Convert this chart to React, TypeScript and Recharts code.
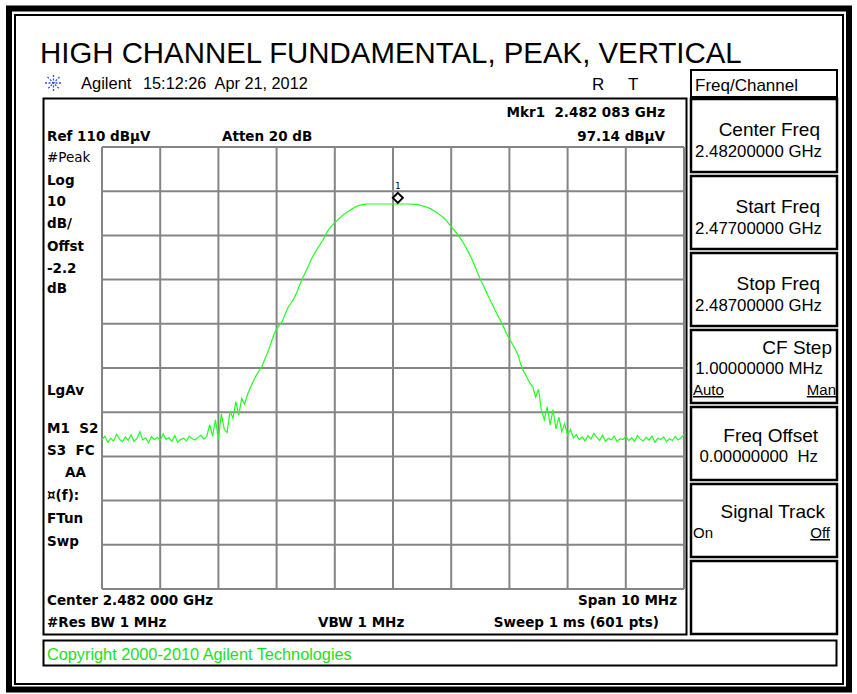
import { LineChart, Line, XAxis, YAxis, CartesianGrid, ReferenceDot } from "recharts";

// sweep: 2.477 GHz .. 2.487 GHz, read every 50 kHz (values in dBuV)
const START_MHZ = 2477;
const STEP_MHZ = 0.05;
const FREQ_TICKS = [2477, 2478, 2479, 2480, 2481, 2482, 2483, 2484, 2485, 2486, 2487];
const LEVEL_TICKS = [10, 20, 30, 40, 50, 60, 70, 80, 90, 100, 110];

const LEVELS = [
  // 0.00 - 0.95 MHz
  43.8, 44.6, 43.2, 44.1, 43.5, 45.0, 43.9, 43.3, 44.4, 43.6, 44.9, 43.4, 44.0, 45.6, 43.7, 44.2, 43.1, 44.5, 43.8, 44.3,
  // 1.00 - 1.95
  43.6, 45.1, 43.9, 44.2, 43.4, 44.7, 43.2, 43.8, 44.1, 43.5, 44.6, 44.0, 43.7, 44.3, 44.8, 43.9, 44.5, 47.2, 44.6, 48.3,
  // 2.00 - 2.95
  43.9, 49.6, 46.2, 45.4, 50.3, 48.6, 52.4, 49.3, 53.1, 51.8, 54.0, 55.6, 57.0, 58.3, 59.4, 60.4, 62.1, 63.6, 65.5, 67.4,
  // 3.00 - 3.95
  68.8, 69.7, 70.6, 72.3, 73.8, 74.7, 75.8, 77.2, 78.9, 80.4, 81.8, 83.2, 84.7, 85.9, 87.0, 88.0, 89.0, 90.4, 91.4, 92.2,
  // 4.00 - 4.95
  92.9, 93.5, 94.1, 94.7, 95.2, 95.6, 96.0, 96.4, 96.7, 96.9, 97.0, 97.1, 97.1, 97.1, 97.1, 97.1, 97.1, 97.1, 97.1, 97.1,
  // 5.00 - 5.95
  97.1, 97.1, 97.1, 97.1, 97.1, 97.1, 97.1, 97.0, 97.0, 96.9, 96.7, 96.5, 96.3, 96.0, 95.6, 95.2, 94.7, 94.2, 93.6, 92.8,
  // 6.00 - 6.95
  92.0, 91.2, 90.4, 89.5, 88.5, 87.3, 86.1, 84.8, 83.3, 81.6, 80.1, 78.7, 77.3, 75.9, 74.6, 73.2, 71.9, 70.7, 69.3, 67.8,
  // 7.00 - 7.95
  66.6, 65.5, 64.3, 62.9, 60.6, 59.1, 57.9, 56.6, 55.8, 53.4, 55.2, 50.4, 48.3, 51.2, 47.1, 50.6, 46.2, 48.9, 45.6, 47.4,
  // 8.00 - 8.95
  44.8, 46.1, 44.2, 44.9, 43.8, 44.4, 43.5, 44.7, 43.9, 45.2, 44.3, 43.6, 44.8, 43.4, 44.1, 43.7, 44.6, 43.3, 44.0, 43.8,
  // 9.00 - 10.00
  44.5, 43.6, 44.2, 43.4, 44.7, 43.9, 43.5, 44.3, 43.7, 44.6, 43.2, 44.1, 43.8, 44.4, 43.3, 44.0, 43.6, 44.5, 43.7, 44.2, 45.0,
];

const MARKER_FREQ = 2482.083;
const MARKER_LEVEL = 97.14;

const data = LEVELS.map((v, i) => ({ f: START_MHZ + i * STEP_MHZ, v }));

const BOLD = { fontFamily: "'DejaVu Sans', sans-serif", fontWeight: 700, fontSize: 13.5 };
const ARIAL = { fontFamily: "'Liberation Sans', Arial, sans-serif" };

const LEFT_LABELS: [string, number, number, boolean][] = [
  ["#Peak", 47, 162, false],
  ["Log", 47, 185, true],
  ["10", 47, 206, true],
  ["dB/", 47, 228, true],
  ["Offst", 47, 251, true],
  ["-2.2", 47, 273, true],
  ["dB", 47, 293, true],
  ["LgAv", 47, 395, true],
  ["M1  S2", 47, 433, true],
  ["S3  FC", 47, 455, true],
  ["AA", 65, 477, true],
  ["\u00a4(f):", 47, 500, true],
  ["FTun", 47, 523, true],
  ["Swp", 47, 546, true],
];

function MarkerShape(props: any) {
  const { cx, cy } = props;
  const y = cy - 6;
  return (
    <g>
      <path
        d={`M${cx},${y - 5} L${cx + 5},${y} L${cx},${y + 5} L${cx - 5},${y} Z`}
        fill="white"
        stroke="black"
        strokeWidth={2}
      />
      <text x={cx} y={cy - 15} textAnchor="middle" fontSize={9} fontFamily="'DejaVu Sans Mono', monospace">
        1
      </text>
    </g>
  );
}

function Softkeys() {
  const tops = [99, 176, 253, 330, 407, 484, 561];
  return (
    <g>
      {tops.map((t) => (
        <rect key={t} x={691} y={t} width={146} height={73} fill="none" stroke="black" strokeWidth={2.5} />
      ))}
      <g {...ARIAL} fontSize={19}>
        <text x={820} y={136} textAnchor="end">Center Freq</text>
        <text x={820} y={213} textAnchor="end">Start Freq</text>
        <text x={820} y={290} textAnchor="end">Stop Freq</text>
        <text x={832} y={354} textAnchor="end">CF Step</text>
        <text x={818} y={442} textAnchor="end">Freq Offset</text>
        <text x={825} y={518} textAnchor="end">Signal Track</text>
      </g>
      <g {...ARIAL} fontSize={16.8}>
        <text x={822} y={157} textAnchor="end">2.48200000 GHz</text>
        <text x={822} y={234} textAnchor="end">2.47700000 GHz</text>
        <text x={822} y={311} textAnchor="end">2.48700000 GHz</text>
        <text x={823} y={374} textAnchor="end">1.00000000 MHz</text>
        <text x={818} y={462} textAnchor="end" style={{ whiteSpace: "pre" }}>0.00000000  Hz</text>
      </g>
      <g {...ARIAL} fontSize={15}>
        <text x={693} y={395} textDecoration="underline">Auto</text>
        <text x={836} y={395} textAnchor="end" textDecoration="underline">Man</text>
        <text x={693} y={538}>On</text>
        <text x={830} y={538} textAnchor="end" textDecoration="underline">Off</text>
      </g>
    </g>
  );
}

function Frame() {
  return (
    <svg width={857} height={694} style={{ position: "absolute", left: 0, top: 0 }}>
      <rect x={0} y={0} width={857} height={694} fill="white" />
      <rect x={9} y={8.5} width={840} height={681} fill="none" stroke="black" strokeWidth={6} />
      <rect x={15} y={15} width={828} height={669} fill="none" stroke="black" strokeWidth={2} />

      <text x={40} y={63} {...ARIAL} fontSize={29.4}>
        HIGH CHANNEL FUNDAMENTAL, PEAK, VERTICAL
      </text>

      {/* agilent logo */}
      <g stroke="#2f4fe0" strokeWidth={1.3} strokeDasharray="2 1.5">
        <line x1={45} y1={83} x2={62} y2={83} />
        <line x1={53.5} y1={75} x2={53.5} y2={91} />
        <line x1={47.5} y1={77} x2={59.5} y2={89} />
        <line x1={59.5} y1={77} x2={47.5} y2={89} />
      </g>
      <text x={81} y={89} {...ARIAL} fontSize={16.5}>Agilent</text>
      <text x={143} y={89} {...ARIAL} fontSize={16.3} style={{ whiteSpace: "pre" }}>15:12:26  Apr 21, 2012</text>
      <text x={592} y={90} {...ARIAL} fontSize={17}>R</text>
      <text x={628} y={90} {...ARIAL} fontSize={17}>T</text>

      <rect x={691} y={70} width={146} height={27} fill="none" stroke="black" strokeWidth={2} />
      <text x={695} y={91} {...ARIAL} fontSize={17}>Freq/Channel</text>

      <rect x={43.5} y={98.5} width={643} height={536} fill="none" stroke="black" strokeWidth={2} />
      <rect x={43.5} y={640.5} width={793} height={25} fill="none" stroke="black" strokeWidth={2} />

      <g {...BOLD}>
        <text x={665} y={117} textAnchor="end" style={{ whiteSpace: "pre" }}>Mkr1  2.482 083 GHz</text>
        <text x={47} y={141}>Ref 110 dBµV</text>
        <text x={222} y={141}>Atten 20 dB</text>
        <text x={665} y={141} textAnchor="end">97.14 dBµV</text>
        <text x={47} y={605}>Center 2.482 000 GHz</text>
        <text x={677} y={605} textAnchor="end">Span 10 MHz</text>
        <text x={47} y={627}>#Res BW 1 MHz</text>
        <text x={318} y={627}>VBW 1 MHz</text>
        <text x={659} y={627} textAnchor="end">Sweep 1 ms (601 pts)</text>
      </g>
      {LEFT_LABELS.map(([s, x, y, b]) => (
        <text
          key={s}
          x={x}
          y={y}
          {...BOLD}
          fontWeight={b ? 700 : 400}
          style={{ whiteSpace: "pre" }}
        >
          {s}
        </text>
      ))}

      <text x={47} y={660} {...ARIAL} fontSize={16.3} fill="#1fdc1f">
        Copyright 2000-2010 Agilent Technologies
      </text>

      <Softkeys />
    </svg>
  );
}

export default function App() {
  return (
    <div style={{ position: "absolute", left: 0, top: 0, width: 857, height: 694, background: "white" }}>
      <Frame />
      <div style={{ position: "absolute", left: 100, top: 145 }}>
        <LineChart width={586} height={446} data={data} margin={{ top: 2, right: 2, bottom: 2, left: 2 }}>
          <CartesianGrid stroke="#858585" strokeWidth={2} />
          <XAxis dataKey="f" type="number" domain={[2477, 2487]} ticks={FREQ_TICKS} interval={0} hide />
          <YAxis type="number" domain={[10, 110]} ticks={LEVEL_TICKS} interval={0} hide />
          <Line
            dataKey="v"
            stroke="#22ff22"
            strokeWidth={1.2}
            dot={false}
            isAnimationActive={false}
          />
          <ReferenceDot x={MARKER_FREQ} y={MARKER_LEVEL} r={5} shape={MarkerShape} />
        </LineChart>
      </div>
    </div>
  );
}
